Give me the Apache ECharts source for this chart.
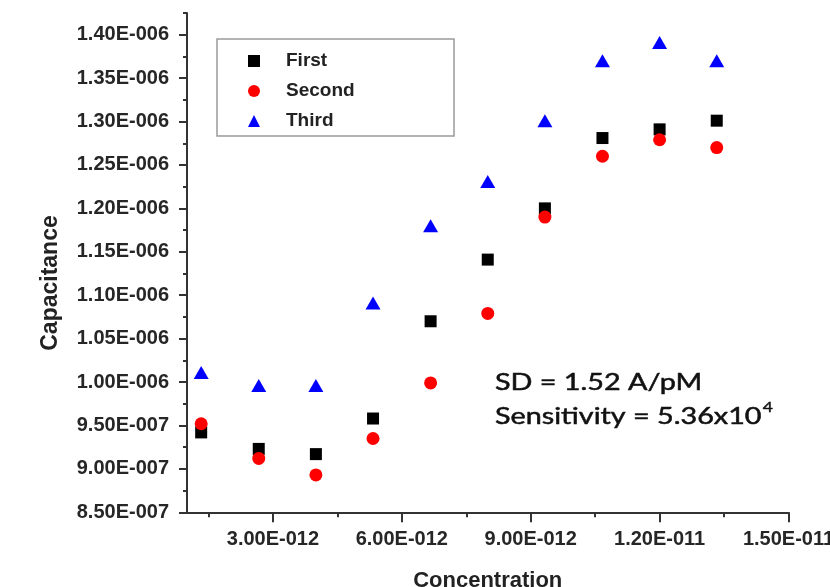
<!DOCTYPE html>
<html>
<head>
<meta charset="utf-8">
<script src="https://cdn.jsdelivr.net/npm/echarts@6/dist/echarts.min.js"></script>
<style>
  html, body { margin: 0; padding: 0; background: #fff; }
  #chart { width: 830px; height: 587px; }
</style>
</head>
<body>
<div id="chart"></div>
<script>
// Concentration of each measurement point
const concentration = [1.33e-12, 2.67e-12, 4.0e-12, 5.33e-12, 6.67e-12, 8.0e-12, 9.33e-12, 10.67e-12, 12.0e-12, 13.33e-12];

// Capacitance readings for the three runs
const first  = [9.42e-7, 9.23e-7, 9.17e-7, 9.58e-7, 1.070e-6, 1.141e-6, 1.200e-6, 1.281e-6, 1.291e-6, 1.301e-6];
const second = [9.52e-7, 9.12e-7, 8.93e-7, 9.35e-7, 9.99e-7, 1.079e-6, 1.190e-6, 1.260e-6, 1.279e-6, 1.270e-6];
const third  = [1.011e-6, 9.96e-7, 9.96e-7, 1.091e-6, 1.180e-6, 1.231e-6, 1.301e-6, 1.370e-6, 1.391e-6, 1.370e-6];

// Axis tick labels
const xTickLabels = ['3.00E-012', '6.00E-012', '9.00E-012', '1.20E-011', '1.50E-011'];
const yTickLabels = ['8.50E-007', '9.00E-007', '9.50E-007', '1.00E-006', '1.05E-006', '1.10E-006',
                     '1.15E-006', '1.20E-006', '1.25E-006', '1.30E-006', '1.35E-006', '1.40E-006'];

const xMin = 1e-12, xMax = 1.5e-11;
const yMin = 8.5e-7, yMax = 1.425e-6;

const xTicks = xTickLabels.map(Number);
const yTicks = yTickLabels.map(Number);
// minor ticks sit halfway between the major ones
const xMinor = [xTicks[0] - (xTicks[1] - xTicks[0]) / 2].concat(xTicks.slice(0, -1).map((v, i) => (v + xTicks[i + 1]) / 2));
const yMinor = yTicks.map((v, i) => i < yTicks.length - 1 ? (v + yTicks[i + 1]) / 2 : v + (v - yTicks[i - 1]) / 2);

function sci(v) {
  const parts = v.toExponential(2).split('e');
  const n = parseInt(parts[1], 10);
  return parts[0] + 'E' + (n < 0 ? '-' : '+') + String(Math.abs(n)).padStart(3, '0');
}

const axisColor = '#333';
const labelFont = { fontFamily: 'Liberation Sans', fontWeight: 'bold', color: '#262626' };

const chart = echarts.init(document.getElementById('chart'), null, { renderer: 'canvas' });

chart.setOption({
  backgroundColor: '#fff',
  animation: false,
  grid: { left: 187, right: 41.5, top: 13, bottom: 74.7, containLabel: false, outerBoundsMode: 'none' },
  xAxis: [{
    type: 'value', min: xMin, max: xMax,
    name: 'Concentration', nameLocation: 'middle', nameGap: 58,
    nameTextStyle: { fontFamily: 'Liberation Sans', fontWeight: 'bold', fontSize: 22, color: '#222' },
    axisLine: { show: true, lineStyle: { color: axisColor, width: 2 } },
    axisTick: { show: true, customValues: xTicks, length: 10, inside: false, lineStyle: { color: axisColor, width: 2 } },
    axisLabel: { show: true, customValues: xTicks, formatter: sci, margin: 17, fontSize: 20, ...labelFont },
    splitLine: { show: false }
  }, {
    type: 'value', min: xMin, max: xMax, position: 'bottom',
    axisLine: { show: false },
    axisTick: { show: true, customValues: xMinor, length: 5, lineStyle: { color: axisColor, width: 2 } },
    axisLabel: { show: false },
    splitLine: { show: false }
  }],
  yAxis: [{
    type: 'value', min: yMin, max: yMax,
    axisLine: { show: true, lineStyle: { color: axisColor, width: 2 } },
    axisTick: { show: true, customValues: yTicks, length: 8, lineStyle: { color: axisColor, width: 2 } },
    axisLabel: { show: true, customValues: yTicks, formatter: sci, margin: 18, fontSize: 20, ...labelFont },
    splitLine: { show: false }
  }, {
    type: 'value', min: yMin, max: yMax, position: 'left',
    axisLine: { show: false },
    axisTick: { show: true, customValues: yMinor, length: 4, lineStyle: { color: axisColor, width: 2 } },
    axisLabel: { show: false },
    splitLine: { show: false }
  }],
  legend: {
    orient: 'vertical', left: 248, top: 51, padding: 0,
    itemWidth: 12, itemHeight: 12, itemGap: 10,
    textStyle: { fontFamily: 'Liberation Sans', fontWeight: 'bold', fontSize: 19, lineHeight: 20, color: '#222', padding: [0, 0, 0, 21] },
    data: [
      { name: 'First', icon: 'rect' },
      { name: 'Second', icon: 'circle' },
      { name: 'Third', icon: 'triangle' }
    ]
  },
  graphic: [{
    type: 'rect', z: -1,
    shape: { x: 217, y: 39, width: 237, height: 97 },
    style: { fill: '#fff', stroke: '#9a9a9a', lineWidth: 1.5 }
  }, {
    // y-axis title, set slightly below the plot's centre line
    type: 'text', x: 51, y: 283, rotation: Math.PI / 2,
    style: {
      text: 'Capacitance', font: 'bold 23px "Liberation Sans"', fill: '#222',
      textAlign: 'center', textVerticalAlign: 'middle'
    }
  }, {
    type: 'text', x: 495, y: 366, scaleX: 1.25,
    style: {
      text: 'SD = 1.52 A/pM\n{m|Sensitivity = 5.36x10}{s|4}',
      font: '23px Lato', fill: '#111', lineHeight: 34,
      stroke: '#111', lineWidth: 0.5,
      rich: {
        m: { font: '23px Lato', fill: '#111', lineHeight: 34, stroke: '#111', lineWidth: 0.5 },
        s: { font: '14px Lato', fill: '#111', lineHeight: 34, verticalAlign: 'top', padding: [0, 0, 12, 1], stroke: '#111', lineWidth: 0.4 }
      }
    }
  }],
  series: [{
    name: 'First', type: 'scatter', symbol: 'rect', symbolSize: 12,
    itemStyle: { color: '#000', opacity: 1 },
    data: concentration.map((c, i) => [c, first[i]])
  }, {
    name: 'Second', type: 'scatter', symbol: 'circle', symbolSize: 13,
    itemStyle: { color: '#ff0000', opacity: 1 },
    data: concentration.map((c, i) => [c, second[i]])
  }, {
    name: 'Third', type: 'scatter', symbol: 'triangle', symbolSize: [15, 13],
    itemStyle: { color: '#0000ff', opacity: 1 },
    data: concentration.map((c, i) => [c, third[i]])
  }]
});
</script>
</body>
</html>
